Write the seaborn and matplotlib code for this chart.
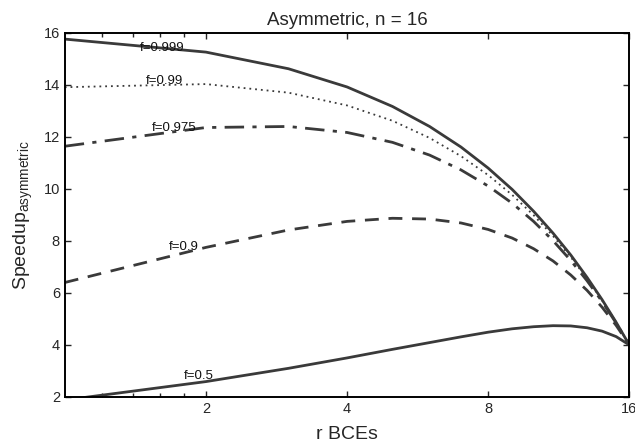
import matplotlib
matplotlib.use("Agg")
import matplotlib.pyplot as plt
from matplotlib.ticker import FixedLocator, NullFormatter
import seaborn as sns
import numpy as np
import pandas as pd

sns.set_style("ticks")
plt.rcParams["font.family"] = ["Liberation Sans", "DejaVu Sans"]
plt.rcParams["mathtext.fontset"] = "custom"
plt.rcParams["mathtext.rm"] = "Liberation Sans"
plt.rcParams["mathtext.it"] = "Liberation Sans"

# r = number of BCEs in the big core, n = 16
r_bces = [1, 2, 3, 4, 5, 6, 7, 8, 9, 10, 11, 12, 13, 14, 15, 16]

speedup_f0999 = [15.76, 15.26, 14.62, 13.92, 13.17, 12.40, 11.61, 10.80,
                 9.98, 9.14, 8.30, 7.46, 6.60, 5.74, 4.87, 4.00]
speedup_f099 = [13.91, 14.03, 13.70, 13.21, 12.62, 11.96, 11.26, 10.53,
                9.77, 8.99, 8.19, 7.38, 6.55, 5.71, 4.86, 4.00]
speedup_f0975 = [11.64, 12.36, 12.40, 12.17, 11.79, 11.30, 10.73, 10.11,
                 9.45, 8.75, 8.01, 7.25, 6.47, 5.67, 4.84, 4.00]
speedup_f09 = [6.40, 7.75, 8.42, 8.75, 8.87, 8.84, 8.69, 8.44,
               8.11, 7.70, 7.23, 6.69, 6.10, 5.45, 4.75, 4.00]
speedup_f05 = [1.88, 2.59, 3.10, 3.50, 3.83, 4.09, 4.31, 4.49,
               4.62, 4.70, 4.74, 4.73, 4.66, 4.53, 4.32, 4.00]

series_names = ["f=0.999", "f=0.99", "f=0.975", "f=0.9", "f=0.5"]
series_values = [speedup_f0999, speedup_f099, speedup_f0975, speedup_f09, speedup_f05]

# label anchors (r, speedup)
label_r = [1.61, 1.63, 1.71, 1.79, 1.93]
label_y = [15.42, 14.15, 12.35, 7.77, 2.81]

LINE_COLOR = "#3a3a3a"
STYLES = {
    "f=0.999": dict(ls="-", lw=2.0),
    "f=0.99":  dict(ls=(0, (1, 2.2)), lw=1.3),
    "f=0.975": dict(ls=(0, (7, 3, 1.5, 3)), lw=2.0),
    "f=0.9":   dict(ls=(0, (5, 3.5)), lw=2.0),
    "f=0.5":   dict(ls="-", lw=2.0),
}

df = pd.DataFrame({
    "r": r_bces * len(series_names),
    "speedup": np.concatenate(series_values),
    "f": np.repeat(series_names, len(r_bces)),
})

fig = plt.figure(figsize=(6.35, 4.44), dpi=100)
ax = fig.add_axes([0.102, 0.106, 0.889, 0.820])

for name in series_names:
    sub = df[df["f"] == name]
    sns.lineplot(data=sub, x="r", y="speedup", ax=ax, color=LINE_COLOR,
                 linestyle=STYLES[name]["ls"], linewidth=STYLES[name]["lw"],
                 legend=False)

for name, lx, ly in zip(series_names, label_r, label_y):
    ax.text(lx, ly, name, ha="center", va="center", fontsize=9.5, color="#111111")

ax.set_xscale("log", base=2)
ax.set_xlim(1, 16)
ax.set_ylim(2, 16)
ax.xaxis.set_major_locator(FixedLocator([2, 4, 8, 16]))
ax.xaxis.set_minor_locator(FixedLocator([1.2, 1.4, 1.6, 1.8]))
ax.xaxis.set_minor_formatter(NullFormatter())
ax.set_xticklabels(["2", "4", "8", "16"])
ax.set_yticks(np.arange(2, 17, 2))

ax.tick_params(which="both", direction="in", top=True, right=True,
               labelsize=10.5, width=1.0)
ax.tick_params(which="major", length=4)
ax.tick_params(which="minor", length=3)
for sp in ax.spines.values():
    sp.set_linewidth(1.4)
    sp.set_color("black")

ax.set_title("Asymmetric, n = 16", fontsize=13.5, pad=6)
ax.set_xlabel("r BCEs", fontsize=14, labelpad=7)
ax.set_ylabel(r"Speedup$_{\mathrm{asymmetric}}$", fontsize=14, labelpad=6)

fig.savefig("out.png", dpi=100)
